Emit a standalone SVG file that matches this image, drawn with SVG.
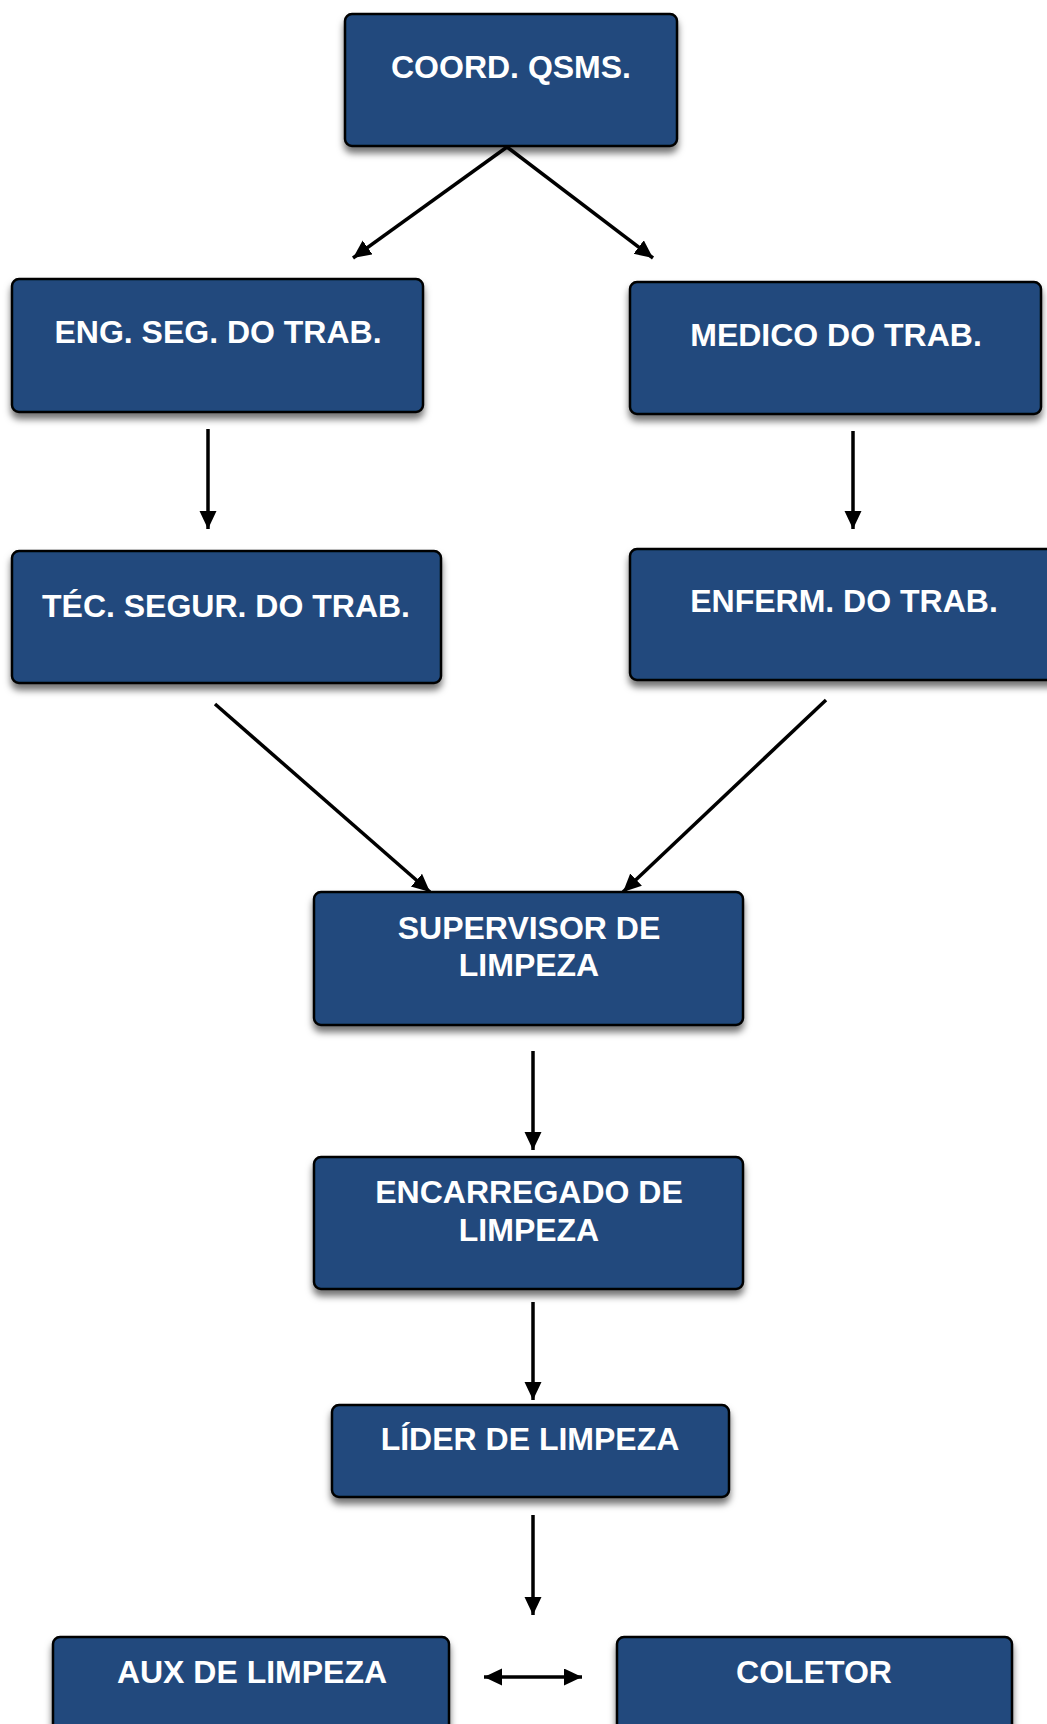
<svg xmlns="http://www.w3.org/2000/svg" width="1047" height="1724" viewBox="0 0 1047 1724">
<style>
.box{fill:#214a7d;stroke:#000;stroke-width:2.5;filter:url(#sh)}
.t{font-family:"Liberation Sans",Arial,sans-serif;font-weight:bold;font-size:32px;fill:#fff;text-anchor:middle}
.c{stroke:#000;stroke-width:3.5;fill:none;marker-end:url(#ah)}
</style>
<defs>
<filter id="sh" x="-10%" y="-10%" width="120%" height="140%">
<feDropShadow dx="0" dy="6" stdDeviation="3.5" flood-color="#000" flood-opacity="0.55"/>
</filter>
<marker id="ah" markerUnits="userSpaceOnUse" markerWidth="20" markerHeight="18" refX="18" refY="8.5" orient="auto-start-reverse">
<path d="M0,0 L18,8.5 L0,17 z" fill="#000"/>
</marker>
</defs>
<rect width="1047" height="1724" fill="#fff"/>
<g id="connectors">
<line class="c" x1="507" y1="147" x2="353" y2="258"/>
<line class="c" x1="507" y1="147" x2="653" y2="258"/>
<line class="c" x1="208" y1="429" x2="208" y2="529"/>
<line class="c" x1="853" y1="431" x2="853" y2="529"/>
<line class="c" x1="215" y1="704" x2="430" y2="892"/>
<line class="c" x1="826" y1="700" x2="623" y2="892"/>
<line class="c" x1="533" y1="1051" x2="533" y2="1150"/>
<line class="c" x1="533" y1="1302" x2="533" y2="1400"/>
<line class="c" x1="533" y1="1515" x2="533" y2="1615"/>
<line class="c" x1="484" y1="1677" x2="582" y2="1677" marker-start="url(#ah)"/>
</g>
<g id="coord"><rect class="box" x="345" y="14" width="332" height="132" rx="7"/><text class="t" x="511" y="78">COORD. QSMS.</text></g>
<g id="eng"><rect class="box" x="12" y="279" width="411" height="133" rx="7"/><text class="t" x="218" y="343">ENG. SEG. DO TRAB.</text></g>
<g id="medico"><rect class="box" x="630" y="282" width="411" height="132" rx="7"/><text class="t" x="836" y="346">MEDICO DO TRAB.</text></g>
<g id="tec"><rect class="box" x="12" y="551" width="429" height="132" rx="7"/><text class="t" x="226" y="617">TÉC. SEGUR. DO TRAB.</text></g>
<g id="enferm"><rect class="box" x="630" y="549" width="430" height="131" rx="7"/><text class="t" x="844" y="612">ENFERM. DO TRAB.</text></g>
<g id="supervisor"><rect class="box" x="314" y="892" width="429" height="133" rx="7"/><text class="t" x="529" y="939">SUPERVISOR DE</text><text class="t" x="529" y="976">LIMPEZA</text></g>
<g id="encarregado"><rect class="box" x="314" y="1157" width="429" height="132" rx="7"/><text class="t" x="529" y="1203">ENCARREGADO DE</text><text class="t" x="529" y="1241">LIMPEZA</text></g>
<g id="lider"><rect class="box" x="332" y="1405" width="397" height="92" rx="7"/><text class="t" x="530" y="1450">LÍDER DE LIMPEZA</text></g>
<g id="aux"><rect class="box" x="53" y="1637" width="396" height="132" rx="7"/><text class="t" x="252" y="1683">AUX DE LIMPEZA</text></g>
<g id="coletor"><rect class="box" x="617" y="1637" width="395" height="132" rx="7"/><text class="t" x="814" y="1683">COLETOR</text></g>
</svg>
